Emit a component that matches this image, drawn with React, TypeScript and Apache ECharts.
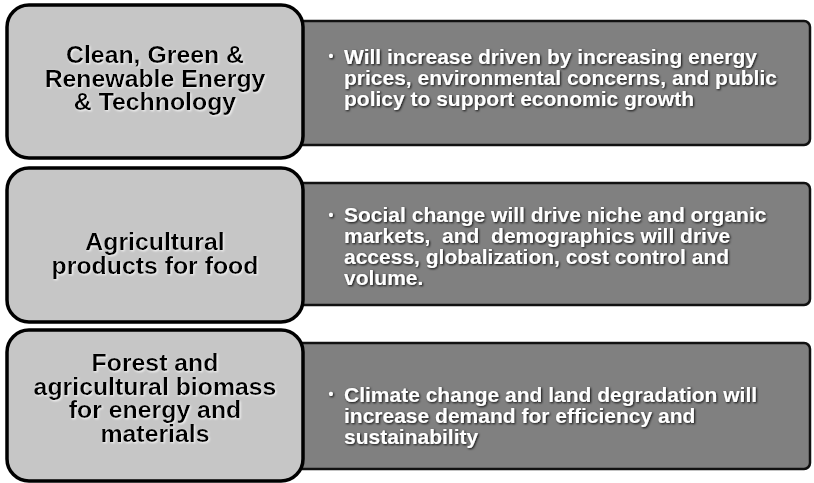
import React, { useEffect, useRef } from "react";
import * as echarts from "echarts";

const categories: string[] = [
  "Clean, Green &\nRenewable Energy\n& Technology",
  "Agricultural\nproducts for food",
  "Forest and\nagricultural biomass\nfor energy and\nmaterials",
];

const descriptions: string[] = [
  "Will increase driven by increasing energy\nprices, environmental concerns, and public\npolicy to support economic growth",
  "Social change will drive niche and organic\nmarkets,  and  demographics will drive\naccess, globalization, cost control and\nvolume.",
  "Climate change and land degradation will\nincrease demand for efficiency and\nsustainability",
];

// layout (pixels)
const leftBoxes = [
  { y: 5, h: 153, dy: -3 },
  { y: 168, h: 154, dy: 9 },
  { y: 330, h: 151, dy: -7 },
];
const rightBoxes = [
  { y: 21, h: 124, dy: -6 },
  { y: 183, h: 122, dy: 2 },
  { y: 343, h: 126, dy: 9 },
];
const LEFT_X = 7;
const LEFT_W = 296;
const RIGHT_X = 280;
const RIGHT_W = 530;

export default function App() {
  const ref = useRef<HTMLDivElement>(null);
  useEffect(() => {
    if (!ref.current) return;
    const chart = echarts.init(ref.current, null, { renderer: "svg" });
    const elements: any[] = [];
    rightBoxes.forEach((b, i) => {
      elements.push({
        type: "rect",
        shape: { x: RIGHT_X, y: b.y, width: RIGHT_W, height: b.h, r: 6 },
        style: { fill: "#808080", stroke: "#111", lineWidth: 2.5 },
        z: 1,
      });
      const lines = descriptions[i].split("\n");
      const lh = 21;
      const cy = b.y + b.h / 2 + b.dy;
      const top = cy - (lines.length * lh) / 2;
      elements.push({
        type: "text",
        x: 331,
        y: top + lh / 2,
        style: {
          text: "•",
          font: "bold 14px 'Liberation Sans', Arial, sans-serif",
          fill: "#ffffff",
          textAlign: "center",
          textVerticalAlign: "middle",
          textShadowColor: "rgba(0,0,0,0.9)",
          textShadowBlur: 2,
          textShadowOffsetX: 1,
          textShadowOffsetY: 1,
        },
        z: 3,
      });
      elements.push({
        type: "text",
        x: 344,
        y: cy,
        style: {
          text: descriptions[i],
          font: "bold 21px 'Liberation Sans', Arial, sans-serif",
          lineHeight: lh,
          fill: "#ffffff",
          textAlign: "left",
          textVerticalAlign: "middle",
          textShadowColor: "rgba(0,0,0,0.9)",
          textShadowBlur: 2,
          textShadowOffsetX: 1,
          textShadowOffsetY: 1,
        },
        z: 3,
      });
    });
    leftBoxes.forEach((b, i) => {
      elements.push({
        type: "rect",
        shape: { x: LEFT_X, y: b.y, width: LEFT_W, height: b.h, r: 22 },
        style: { fill: "#c6c6c6", stroke: "#000", lineWidth: 3.5 },
        z: 5,
      });
      elements.push({
        type: "text",
        x: LEFT_X + LEFT_W / 2,
        y: b.y + b.h / 2 + b.dy,
        scaleX: 1.08,
        style: {
          text: categories[i],
          font: "bold 23px 'Liberation Sans', Arial, sans-serif",
          lineHeight: 23.5,
          fill: "#000000",
          textAlign: "center",
          textVerticalAlign: "middle",
          textShadowColor: "rgba(255,255,255,0.9)",
          textShadowBlur: 2,
          textShadowOffsetX: 1,
          textShadowOffsetY: 1,
        },
        z: 6,
      });
    });
    chart.setOption({
      animation: false,
      backgroundColor: "#ffffff",
      graphic: { elements },
    });
    return () => chart.dispose();
  }, []);
  return (
    <div
      ref={ref}
      style={{ position: "fixed", left: 0, top: 0, width: 814, height: 483 }}
    />
  );
}
